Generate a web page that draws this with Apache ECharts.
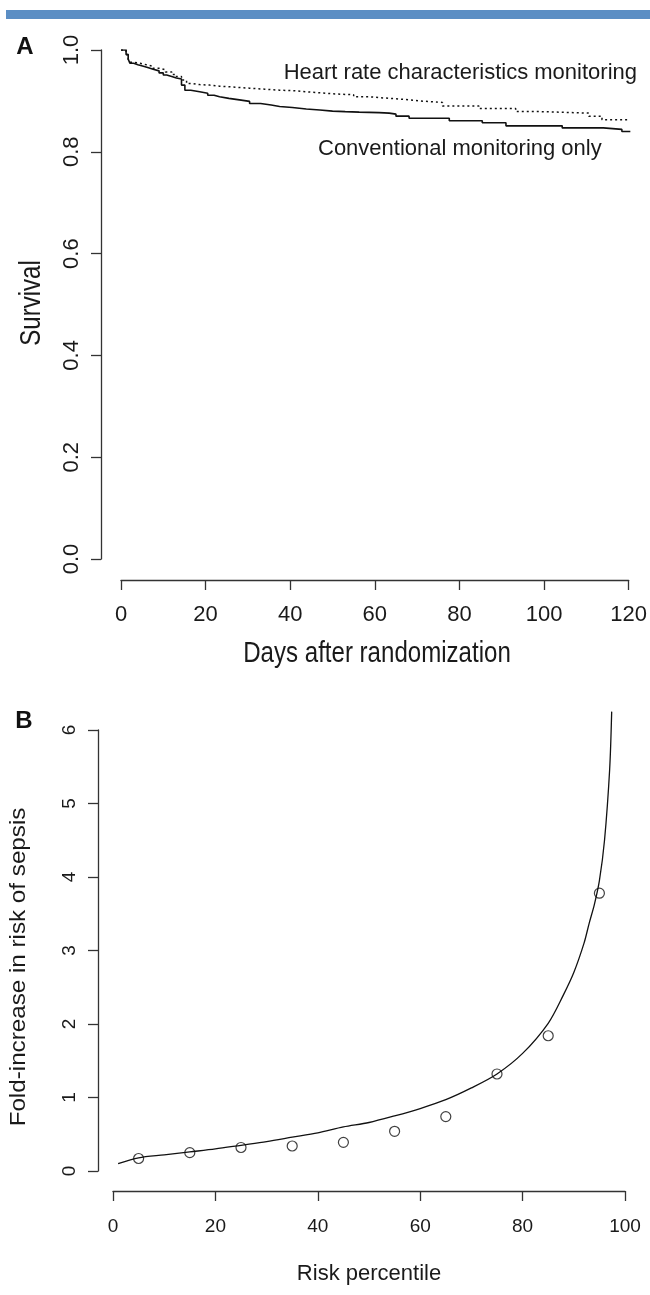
<!DOCTYPE html>
<html><head><meta charset="utf-8">
<script src="https://cdn.jsdelivr.net/npm/echarts@6/dist/echarts.min.js"></script>
<style>html,body{margin:0;padding:0;background:#fff}#c{width:650px;height:1295px}</style>
</head><body><div id="c"></div>
<script>
// Panel A: Kaplan-Meier survival
const convDays = [0, 1.2, 1.7, 2.1, 3.0, 4.0, 5.3, 6.5, 7.6, 9.0, 10.0, 10.8, 12.0, 13.1, 14.3, 15.1, 16.5, 18.6, 20.5, 22.0, 23.3, 25.5, 28.0, 30.4, 33.0, 35.5, 37.5, 40.5, 43.8, 47.0, 50.0, 53.0, 56.3, 61.0, 63.4, 65.0, 68.1, 77.6, 85.4, 91.0, 104.3, 114.0, 118.4, 120.4];
const convSurv = [1.0, 0.991, 0.982, 0.974, 0.971, 0.968, 0.965, 0.962, 0.959, 0.955, 0.951, 0.948, 0.945, 0.943, 0.931, 0.921, 0.918, 0.915, 0.911, 0.908, 0.905, 0.902, 0.899, 0.895, 0.892, 0.889, 0.887, 0.884, 0.882, 0.880, 0.879, 0.878, 0.877, 0.876, 0.874, 0.870, 0.866, 0.861, 0.857, 0.851, 0.847, 0.844, 0.840, 0.840];
const hrcDays = [0, 1.2, 1.7, 2.1, 2.9, 4.5, 6.0, 7.5, 9.2, 10.5, 12.0, 13.1, 14.3, 15.5, 17.0, 18.6, 21.0, 23.3, 27.0, 30.4, 34.0, 37.5, 41.0, 43.8, 47.0, 50.0, 55.0, 58.7, 63.4, 67.0, 70.5, 76.0, 84.6, 93.3, 99.0, 110.6, 113.7, 120.0];
const hrcSurv = [1.0, 0.991, 0.982, 0.976, 0.974, 0.971, 0.968, 0.964, 0.961, 0.957, 0.952, 0.948, 0.941, 0.934, 0.932, 0.931, 0.929, 0.927, 0.925, 0.923, 0.921, 0.920, 0.918, 0.916, 0.914, 0.912, 0.908, 0.905, 0.903, 0.900, 0.897, 0.890, 0.885, 0.879, 0.876, 0.870, 0.863, 0.863];

// Panel B: fold increase in risk of sepsis
const riskPct = [5, 15, 25, 35, 45, 55, 65, 75, 85, 95];
const foldObs = [0.17, 0.25, 0.32, 0.34, 0.39, 0.54, 0.74, 1.32, 1.84, 3.78];
const fitPct = [1, 5, 10, 15, 20, 25, 30, 35, 40, 45, 50, 55, 60, 65, 70, 75, 80, 85, 88, 90, 92, 93, 94, 95, 96, 97, 97.4];
const fitFold = [0.10, 0.18, 0.22, 0.26, 0.30, 0.35, 0.40, 0.46, 0.52, 0.60, 0.66, 0.75, 0.85, 0.97, 1.13, 1.32, 1.60, 2.01, 2.40, 2.70, 3.10, 3.37, 3.62, 3.95, 4.50, 5.46, 6.25];

const labelsA = { x: 'Days after randomization', y: 'Survival', hrc: 'Heart rate characteristics monitoring', conv: 'Conventional monitoring only' };
const labelsB = { x: 'Risk percentile', y: 'Fold-increase in risk of sepsis' };

const REG = "'Liberation Sans', Arial, sans-serif";
const AX = '#333', TX = '#1a1a1a';

function axisBase(extra) {
  return Object.assign({
    type: 'value',
    splitLine: { show: false },
    axisLine: { show: true, onZero: false, lineStyle: { color: AX, width: 1.3 } },
    axisTick: { show: true, length: 10, inside: false, lineStyle: { color: AX, width: 1.3 } },
    nameLocation: 'middle'
  }, extra);
}

const chart = echarts.init(document.getElementById('c'), null, { renderer: 'canvas' });
chart.setOption({
  animation: false,
  backgroundColor: '#fff',
  grid: [
    { left: 121, top: 50, width: 509, height: 509 },
    { left: 113, top: 730, width: 512, height: 441 }
  ],
  xAxis: [
    axisBase({ gridIndex: 0, min: 0, max: 120, interval: 20, offset: 21,
      axisLabel: { fontSize: 22, color: TX, fontFamily: REG, margin: 24 } }),
    axisBase({ gridIndex: 1, min: 0, max: 100, interval: 20, offset: 20,
      axisLabel: { fontSize: 19, color: TX, fontFamily: REG, margin: 26 },
      name: labelsB.x, nameGap: 72, nameTextStyle: { fontSize: 22, color: TX, fontFamily: REG } })
  ],
  yAxis: [
    axisBase({ gridIndex: 0, min: 0, max: 1, interval: 0.2, offset: 20,
      axisLabel: { fontSize: 22, color: TX, fontFamily: REG, rotate: 90, margin: 18, formatter: v => v.toFixed(1) } }),
    axisBase({ gridIndex: 1, min: 0, max: 6, interval: 1, offset: 15,
      axisLabel: { fontSize: 19, color: TX, fontFamily: REG, rotate: 90, margin: 19 } })
  ],
  series: [
    { type: 'line', xAxisIndex: 0, yAxisIndex: 0, step: 'end', symbol: 'none',
      data: hrcDays.map((d, i) => [d, hrcSurv[i]]),
      lineStyle: { color: '#111', width: 1.5, type: [2, 3] } },
    { type: 'line', xAxisIndex: 0, yAxisIndex: 0, step: 'end', symbol: 'none',
      data: convDays.map((d, i) => [d, convSurv[i]]),
      lineStyle: { color: '#111', width: 1.6 } },
    { type: 'line', xAxisIndex: 1, yAxisIndex: 1, symbol: 'none', clip: false,
      smooth: 0.3,
      data: fitPct.map((p, i) => [p, fitFold[i]]),
      lineStyle: { color: '#111', width: 1.3 } },
    { type: 'scatter', xAxisIndex: 1, yAxisIndex: 1, symbol: 'circle', symbolSize: 10,
      data: riskPct.map((p, i) => [p, foldObs[i]]),
      itemStyle: { color: 'rgba(0,0,0,0)', borderColor: '#111', borderWidth: 1.2 } }
  ],
  graphic: [
    { type: 'rect', shape: { x: 6, y: 10, width: 644, height: 9 }, style: { fill: '#5b8ec4' } },
    { type: 'text', x: 25, y: 47, style: { text: 'A', font: "bold 24px 'Liberation Sans', Arial", fill: '#111', align: 'center', verticalAlign: 'middle' } },
    { type: 'text', x: 24, y: 721, style: { text: 'B', font: "bold 24px 'Liberation Sans', Arial", fill: '#111', align: 'center', verticalAlign: 'middle' } },
    { type: 'text', x: 637, y: 73, style: { text: labelsA.hrc, font: "22px 'Liberation Sans', Arial", fill: TX, align: 'right', verticalAlign: 'middle' } },
    { type: 'text', x: 318, y: 149, style: { text: labelsA.conv, font: "22px 'Liberation Sans', Arial", fill: TX, align: 'left', verticalAlign: 'middle' } },
    { type: 'text', x: 377, y: 654, scaleX: 0.83, style: { text: labelsA.x, font: "29px 'Liberation Sans', Arial", fill: TX, align: 'center', verticalAlign: 'middle' } },
    { type: 'text', x: 32, y: 303, rotation: Math.PI / 2, scaleX: 0.83, style: { text: labelsA.y, font: "29px 'Liberation Sans', Arial", fill: TX, align: 'center', verticalAlign: 'middle' } },
    { type: 'text', x: 19, y: 967, rotation: Math.PI / 2, scaleX: 1.1, style: { text: labelsB.y, font: "22px 'Liberation Sans', Arial", fill: TX, align: 'center', verticalAlign: 'middle' } }
  ]
});
</script></body></html>
